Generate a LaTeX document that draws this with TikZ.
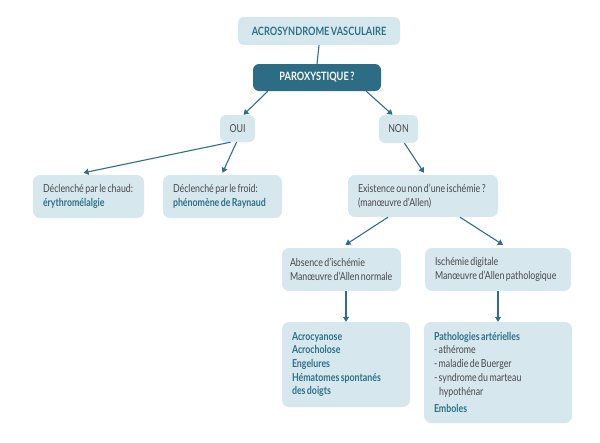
\documentclass[tikz,border=0pt]{standalone}
\usepackage{fontspec}
\setmainfont{Lato}[FakeStretch=0.8, WordSpace=0.65]
\usetikzlibrary{arrows.meta,calc}
\definecolor{lightb}{RGB}{214,232,238}
\definecolor{tealc}{RGB}{46,112,136}
\definecolor{darkt}{RGB}{44,108,132}
\definecolor{txtg}{RGB}{72,72,72}
\tikzset{
  box/.style={rounded corners=7pt, fill=lightb, text=txtg, align=flush left, inner xsep=10pt, inner ysep=0pt, font=\fontsize{11}{13.7}\selectfont},
  smallbox/.style={rounded corners=6pt, fill=lightb, text=txtg, align=center, inner sep=0pt, font=\fontsize{11}{12}\selectfont},
  conn/.style={draw=tealc, line width=1.1pt, -{Triangle[width=6pt,length=5pt]}}
}
\newcommand{\hlt}[1]{\textcolor{tealc}{\bfseries #1}}
\begin{document}
\begin{tikzpicture}[x=1pt,y=-1pt]
\useasboundingbox[fill=white] (0,0) rectangle (600,442);
% top
\node[smallbox, minimum width=162, minimum height=28, text=tealc, font=\fontsize{11.5}{12}\selectfont\bfseries] (acro) at (319,31) {ACROSYNDROME VASCULAIRE};
\node[smallbox, fill=darkt, minimum width=128, minimum height=27, text=white, font=\fontsize{11.5}{12}\selectfont\bfseries] (parox) at (317,77.5) {PAROXYSTIQUE ?};
\node[smallbox, minimum width=35, minimum height=27] (oui) at (237.5,128.5) {OUI};
\node[smallbox, minimum width=39, minimum height=28] (non) at (398.5,129) {NON};
\node[box, text width=91, minimum height=43] (chaud) at (88.5,196.5) {\mbox{Déclenché par le chaud:}\\\hlt{érythromélalgie}};
\node[box, text width=99, minimum height=43] (froid) at (222.5,196.5) {\mbox{Déclenché par le froid:}\\\mbox{\hlt{phénomène de Raynaud}}};
\node[box, text width=130, minimum height=42] (exist) at (423,196) {\mbox{Existence ou non d’une ischémie ?}\\(manœuvre d’Allen)};
\node[box, inner xsep=8pt, text width=103, minimum height=43] (absence) at (341.5,269.5) {Absence d’ischémie\\\mbox{Manœuvre d’Allen normale}};
\node[box, text width=126, minimum height=43] (isch) at (498,269.5) {Ischémie digitale\\\mbox{Manœuvre d’Allen pathologique}};
\node[box, text width=108, minimum height=85] (acrocy) at (346,364.5) {\hlt{Acrocyanose}\\\hlt{Acrocholose}\\\hlt{Engelures}\\\mbox{\hlt{Hématomes spontanés}}\\\hlt{des doigts}};
\node[box, text width=128, minimum height=101] (patho) at (498,372.5) {\mbox{\hlt{Pathologies artérielles}}\\- athérome\\- maladie de Buerger\\\mbox{- syndrome du marteau}\\\hspace*{5pt}hypothénar\\[4pt]\hlt{Emboles}};
% connectors
\draw[draw=tealc, line width=1.1pt] (acro.south) -- (parox.north);
\draw[conn] ($(parox.south west)+(15,0)$) -- ($(oui.north)+(6,0)$);
\draw[conn] ($(parox.south east)+(-15,0)$) -- ($(non.north)+(-6,0)$);
\draw[conn] ($(oui.south)+(-7,0)$) -- ($(chaud.north)+(-5,-2)$);
\draw[conn] ($(oui.south)+(-1,0)$) -- ($(froid.north)+(0,-2)$);
\draw[conn] ($(non.south)+(6,0)$) -- ($(exist.north)+(1,-2)$);
\draw[conn] ($(exist.south)+(-35,0)$) -- ($(absence.north)+(4,-3)$);
\draw[conn] ($(exist.south)+(37,0)$) -- ($(isch.north)+(5,-3)$);
\draw[conn] (acrocy.north |- absence.south) -- (acrocy.north);
\draw[conn] (isch.south) -- (patho.north);
\end{tikzpicture}
\end{document}
